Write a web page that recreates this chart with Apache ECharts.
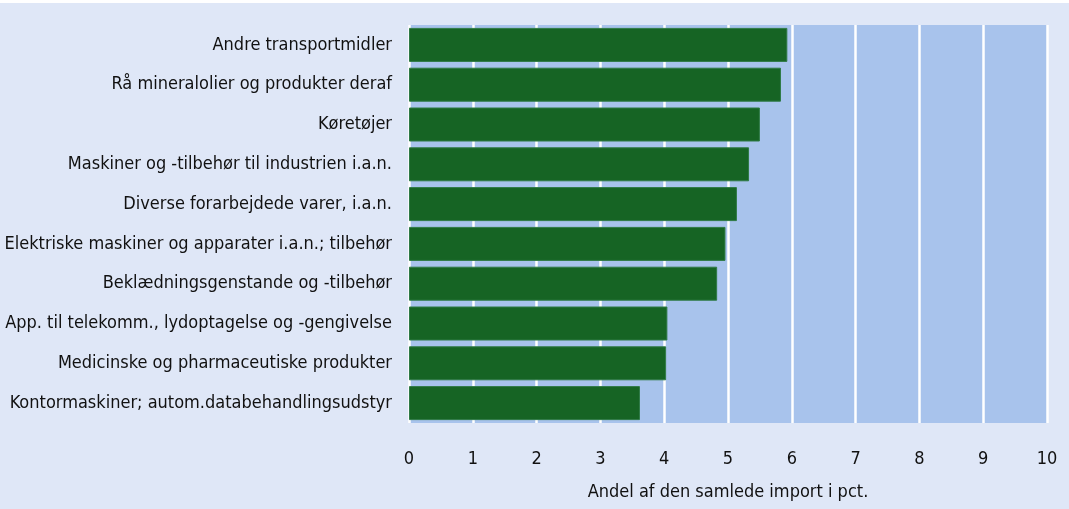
<!DOCTYPE html>
<html>
<head>
<meta charset="utf-8">
<script src="https://cdn.jsdelivr.net/npm/echarts@6/dist/echarts.min.js"></script>
<style>
  html, body { margin: 0; padding: 0; background: #ffffff; }
  #chart { position: absolute; left: 0; top: 3px; width: 1069px; height: 506px; }
</style>
</head>
<body>
<div id="chart"></div>
<script>
// categories from top to bottom
const categories = [
  "Andre transportmidler",
  "Rå mineralolier og produkter deraf",
  "Køretøjer",
  "Maskiner og -tilbehør til industrien i.a.n.",
  "Diverse forarbejdede varer, i.a.n.",
  "Elektriske maskiner og apparater i.a.n.; tilbehør",
  "Beklædningsgenstande og -tilbehør",
  "App. til telekomm., lydoptagelse og -gengivelse",
  "Medicinske og pharmaceutiske produkter",
  "Kontormaskiner; autom.databehandlingsudstyr"
];
const shares = [5.93, 5.83, 5.50, 5.33, 5.14, 4.96, 4.83, 4.05, 4.03, 3.62];
const xName = "Andel af den samlede import i pct.";

const font = "'Liberation Sans Narrow', 'DejaVu Sans Condensed', sans-serif";

const chart = echarts.init(document.getElementById("chart"), null, { renderer: "canvas" });
chart.setOption({
  backgroundColor: "#dfe7f7",
  animation: false,
  grid: {
    left: 409, right: 22, top: 22, bottom: 86,
    show: true, backgroundColor: "#a8c3ec", borderWidth: 0
  },
  xAxis: {
    type: "value",
    min: 0, max: 10, interval: 1,
    name: xName,
    nameLocation: "middle",
    nameGap: 60,
    nameTextStyle: { color: "#111", fontSize: 18, fontFamily: font },
    axisLine: { show: false },
    axisTick: { show: false },
    axisLabel: { color: "#111", fontSize: 18, fontFamily: font, margin: 27 },
    splitLine: { show: true, lineStyle: { color: "#ffffff", width: 2.5 } }
  },
  yAxis: {
    type: "category",
    data: categories,
    inverse: true,
    axisLine: { show: false },
    axisTick: { show: false },
    axisLabel: { color: "#111", fontSize: 18, fontFamily: font, margin: 17 },
    splitLine: { show: false }
  },
  series: [{
    type: "bar",
    data: shares,
    barWidth: 34,
    itemStyle: { color: "#166424", borderColor: "#2f7a45", borderWidth: 1 }
  }]
});
</script>
</body>
</html>
